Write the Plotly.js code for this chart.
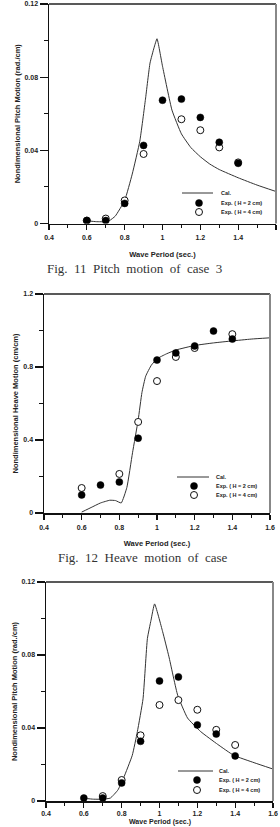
<!DOCTYPE html>
<html>
<head>
<meta charset="utf-8">
<script src="https://cdn.plot.ly/plotly-3.0.1.min.js"></script>
<style>html,body{margin:0;padding:0;background:#fff;}#chart{width:280px;height:827px;}</style>
</head>
<body>
<div id="chart"></div>
<script>
// ---- Data ----
var periods = [0.6, 0.7, 0.8, 0.9, 1.0, 1.1, 1.2, 1.3, 1.4];

// Fig. 11 Pitch motion of case 3
var pitchA_h2 = [0.0016, 0.0016, 0.011, 0.0427, 0.0674, 0.068, 0.058, 0.0444, 0.0329];
var pitchA_h4 = [0.0016, 0.0027, 0.0126, 0.038, null, 0.057, 0.051, 0.0416, 0.0334];
var pitchA_calX = [0.6, 0.65, 0.7, 0.72, 0.75, 0.8, 0.84, 0.88, 0.91, 0.934, 0.955, 0.971, 1.0, 1.05, 1.1, 1.15, 1.2, 1.25, 1.3, 1.4, 1.5, 1.6];
var pitchA_calY = [0.0015, 0.001, 0.001, 0.0016, 0.004, 0.0126, 0.027, 0.045, 0.068, 0.0877, 0.096, 0.101, 0.086, 0.062, 0.049, 0.0415, 0.0365, 0.0325, 0.0295, 0.025, 0.021, 0.0175];

// Fig. 12 Heave motion of case
var heave_h2 = [0.099, 0.153, 0.17, 0.41, 0.838, 0.877, 0.915, 0.997, 0.953];
var heave_h4 = [0.137, null, 0.214, 0.499, 0.723, 0.855, 0.904, null, 0.98];
var heave_calX = [0.6, 0.65, 0.7, 0.75, 0.78, 0.81, 0.84, 0.87, 0.9, 0.92, 0.94, 0.97, 1.0, 1.05, 1.1, 1.2, 1.3, 1.4, 1.5, 1.6];
var heave_calY = [0.005, 0.03, 0.055, 0.07, 0.068, 0.055, 0.14, 0.33, 0.51, 0.66, 0.75, 0.81, 0.845, 0.872, 0.893, 0.918, 0.932, 0.943, 0.953, 0.96];

// Third chart: pitch motion
var pitchB_h2 = [0.0016, 0.0016, 0.0099, 0.0327, 0.0658, 0.068, 0.0417, 0.0367, 0.0247];
var pitchB_h4 = [null, 0.0027, 0.0115, 0.036, 0.0526, 0.0553, 0.05, 0.039, 0.0307];
var pitchB_calX = [0.6, 0.65, 0.7, 0.74, 0.78, 0.81, 0.856, 0.883, 0.913, 0.936, 0.955, 0.974, 1.016, 1.05, 1.096, 1.148, 1.218, 1.308, 1.393, 1.5, 1.6];
var pitchB_calY = [0.0015, 0.001, 0.001, 0.0016, 0.006, 0.0126, 0.025, 0.038, 0.056, 0.089, 0.099, 0.108, 0.093, 0.079, 0.058, 0.0455, 0.038, 0.031, 0.025, 0.021, 0.0175];

var xTickVals = [0.4, 0.6, 0.8, 1.0, 1.2, 1.4, 1.6];
var xTickText = ['0.4', '0.6', '0.8', '1', '1.2', '1.4', '1.6'];
var xTitle = 'Wave Period (sec.)';
var legendNames = ['Cal.', 'Exp. ( H = 2 cm)', 'Exp. ( H = 4 cm)'];
var captions = ['Fig.\u00a0 11\u00a0 Pitch\u00a0 motion\u00a0 of\u00a0 case\u00a0 3', 'Fig.\u00a0 12\u00a0 Heave\u00a0 motion\u00a0 of\u00a0 case'];
var yTitles = ['Nondimensional Pitch Motion (rad./cm)', 'Nondimensional Heave Motion (cm/cm)', 'Nondimensional Pitch Motion (rad./cm)'];

// ---- Layout helpers ----
var W = 280, H = 827;
function px(x) { return x / W; }
function py(y) { return 1 - y / H; }

var tickFont = {family: 'Liberation Sans, Arial, sans-serif', size: 7, weight: 'bold', color: '#222'};
var titleFont = {family: 'Liberation Sans, Arial, sans-serif', size: 7.5, weight: 'bold', color: '#222'};
var lastTitleFont = {family: 'Liberation Sans, Arial, sans-serif', size: 7, weight: 'bold', color: '#222'};
var legFont = {family: 'Liberation Sans, Arial, sans-serif', size: 5.5, weight: 'bold', color: '#222'};

// pixel boxes of the three plot areas [left, right, top, bottom]
var boxes = [[49, 276, 4, 223.5], [44, 270, 294, 513], [46, 273, 582, 801]];
var yRanges = [[0, 0.12], [0, 1.2], [0, 0.12]];
var yDticks = [0.04, 0.4, 0.04];
var yMinor = [0.02, 0.2, 0.02];
var xLabelStandoff = [2, 2, 0];
// legend positions [lineX0, lineX1, lineY, markerX, textX, row2Y, row3Y]
var legs = [[182, 213, 193, 199, 219, 203, 212], [177, 209, 477, 194, 214, 486, 495], [178, 213, 771, 197, 217, 780, 790]];

function xAxis(i) {
  var b = boxes[i];
  return {
    domain: [px(b[0]), px(b[1])], anchor: i === 0 ? 'y' : 'y' + (i + 1),
    range: [0.4, 1.6], tickmode: 'array', tickvals: xTickVals, ticktext: xTickText,
    ticks: 'outside', ticklen: 5, tickwidth: 1.2, tickcolor: '#111', ticklabelstandoff: xLabelStandoff[i],
    minor: {tickmode: 'linear', tick0: 0.4, dtick: 0.1, ticks: 'outside', ticklen: 3, tickwidth: 1, tickcolor: '#111', showgrid: false},
    showline: true, linecolor: '#111', linewidth: 1.5,
    showgrid: false, zeroline: false, tickfont: tickFont,
    // the last panel's title sits at the page edge; drawn as an annotation below
    title: {text: i < 2 ? xTitle : '', font: titleFont},
    fixedrange: true
  };
}
function yAxis(i) {
  var b = boxes[i];
  return {
    domain: [py(b[3]), py(b[2])], anchor: i === 0 ? 'x' : 'x' + (i + 1),
    range: yRanges[i], tick0: 0, dtick: yDticks[i],
    ticks: 'outside', ticklen: 8, tickwidth: 1.2, tickcolor: '#111',
    minor: {tick0: 0, dtick: yMinor[i], ticks: 'outside', ticklen: 4, tickwidth: 1, tickcolor: '#111', showgrid: false},
    showline: true, linecolor: '#111', linewidth: 1.5,
    showgrid: false, zeroline: false, tickfont: tickFont,
    title: {text: yTitles[i], font: titleFont, standoff: 3},
    fixedrange: true
  };
}

var sets = [
  [pitchA_calX, pitchA_calY, pitchA_h2, pitchA_h4],
  [heave_calX, heave_calY, heave_h2, heave_h4],
  [pitchB_calX, pitchB_calY, pitchB_h2, pitchB_h4]
];

var data = [];
var shapes = [];
var annotations = [];
sets.forEach(function (s, i) {
  var xa = i === 0 ? 'x' : 'x' + (i + 1);
  var ya = i === 0 ? 'y' : 'y' + (i + 1);
  var b = boxes[i];
  data.push({x: s[0], y: s[1], xaxis: xa, yaxis: ya, type: 'scatter', mode: 'lines', name: legendNames[0],
    line: {color: '#333', width: 1, shape: 'spline', smoothing: 0.4}, hoverinfo: 'skip'});
  data.push({x: periods, y: s[3], xaxis: xa, yaxis: ya, type: 'scatter', mode: 'markers', name: legendNames[2],
    marker: {symbol: 'circle', size: 7, color: '#fff', line: {color: '#111', width: 1}}, hoverinfo: 'skip'});
  data.push({x: periods, y: s[2], xaxis: xa, yaxis: ya, type: 'scatter', mode: 'markers', name: legendNames[1],
    marker: {symbol: 'circle', size: 7, color: '#000', line: {color: '#000', width: 0.5}}, hoverinfo: 'skip'});

  // frame: top (dark) and right (greyish in the scan)
  shapes.push({type: 'line', xref: 'paper', yref: 'paper', x0: px(b[0]), x1: px(b[1]), y0: py(b[2]), y1: py(b[2]),
    line: {color: '#222', width: 1.5}});
  shapes.push({type: 'line', xref: 'paper', yref: 'paper', x0: px(b[1]), x1: px(b[1]), y0: py(b[3]), y1: py(b[2]),
    line: {color: '#888', width: 2}});

  // legend
  var L = legs[i];
  shapes.push({type: 'line', xref: 'paper', yref: 'paper', x0: px(L[0]), x1: px(L[1]), y0: py(L[2]), y1: py(L[2]),
    line: {color: '#333', width: 1}});
  shapes.push({type: 'circle', xref: 'paper', yref: 'paper', xsizemode: 'pixel', ysizemode: 'pixel',
    xanchor: px(L[3]), yanchor: py(L[5]), x0: -3.5, x1: 3.5, y0: -3.5, y1: 3.5,
    fillcolor: '#000', line: {color: '#000', width: 0.5}});
  shapes.push({type: 'circle', xref: 'paper', yref: 'paper', xsizemode: 'pixel', ysizemode: 'pixel',
    xanchor: px(L[3]), yanchor: py(L[6]), x0: -3.5, x1: 3.5, y0: -3.5, y1: 3.5,
    fillcolor: '#fff', line: {color: '#111', width: 1}});
  [L[2], L[5], L[6]].forEach(function (yy, k) {
    annotations.push({text: legendNames[k], xref: 'paper', yref: 'paper', x: px(L[4]), y: py(yy),
      xanchor: 'left', yanchor: 'middle', showarrow: false, font: legFont});
  });
});

// x title of the last panel, at the bottom edge of the page
annotations.push({text: xTitle, xref: 'x3 domain', yref: 'paper', x: 0.5, y: py(826.5),
  xanchor: 'center', yanchor: 'bottom', showarrow: false, font: lastTitleFont, borderpad: 0});

var captionFont = {family: 'Liberation Serif, Times New Roman, serif', size: 13, color: '#333'};
annotations.push({text: captions[0], xref: 'paper', yref: 'paper', x: px(134), y: py(268),
  xanchor: 'center', yanchor: 'middle', showarrow: false, font: captionFont});
annotations.push({text: captions[1], xref: 'paper', yref: 'paper', x: px(143), y: py(557),
  xanchor: 'center', yanchor: 'middle', showarrow: false, font: captionFont});

var layout = {
  width: W, height: H,
  margin: {l: 0, r: 0, t: 0, b: 0},
  paper_bgcolor: '#fff', plot_bgcolor: '#fff',
  showlegend: false,
  xaxis: xAxis(0), yaxis: yAxis(0),
  xaxis2: xAxis(1), yaxis2: yAxis(1),
  xaxis3: xAxis(2), yaxis3: yAxis(2),
  shapes: shapes, annotations: annotations
};

Plotly.newPlot('chart', data, layout, {displayModeBar: false, staticPlot: true});
</script>
</body>
</html>
